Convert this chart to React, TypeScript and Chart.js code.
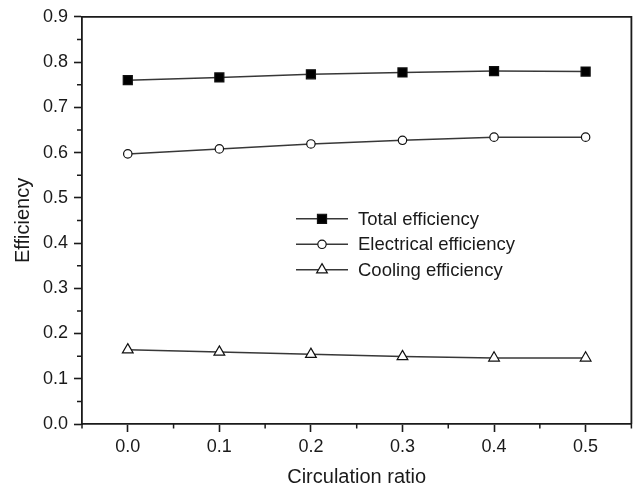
import React, { useEffect, useRef } from 'react';
import { Chart, registerables } from 'chart.js';

Chart.register(...registerables);

const circulationRatio = [0.0, 0.1, 0.2, 0.3, 0.4, 0.5];
const totalEfficiency = [0.760, 0.766, 0.773, 0.777, 0.780, 0.779];
const electricalEfficiency = [0.597, 0.608, 0.619, 0.627, 0.634, 0.634];
const coolingEfficiency = [0.164, 0.159, 0.154, 0.149, 0.146, 0.146];
const seriesLabels = ['Total efficiency', 'Electrical efficiency', 'Cooling efficiency'];

const xMajorTicks = [0.0, 0.1, 0.2, 0.3, 0.4, 0.5];
const xMinorTicks = [-0.05, 0.05, 0.15, 0.25, 0.35, 0.45, 0.55];
const yMajorTicks = [0.0, 0.1, 0.2, 0.3, 0.4, 0.5, 0.6, 0.7, 0.8, 0.9];
const yMinorTicks = [0.05, 0.15, 0.25, 0.35, 0.45, 0.55, 0.65, 0.75, 0.85];

const FONT = "'Liberation Sans', Arial, Helvetica, sans-serif";
const INK = '#1a1a1a';
const LINE = '#383838';

const framePlugin = {
  id: 'frameAndMinorTicks',
  afterDraw(chart: any) {
    const { ctx, chartArea, scales } = chart;
    const { left, right, top, bottom } = chartArea;
    ctx.save();
    ctx.strokeStyle = INK;
    ctx.lineWidth = 1.8;
    ctx.beginPath();
    ctx.moveTo(left, top);
    ctx.lineTo(right, top);
    ctx.lineTo(right, bottom);
    ctx.stroke();
    ctx.lineWidth = 1.5;
    ctx.beginPath();
    xMinorTicks.forEach((v) => {
      const px = scales.x.getPixelForValue(v);
      ctx.moveTo(px, bottom);
      ctx.lineTo(px, bottom + 4.5);
    });
    yMinorTicks.forEach((v) => {
      const py = scales.y.getPixelForValue(v);
      ctx.moveTo(left, py);
      ctx.lineTo(left - 5, py);
    });
    ctx.stroke();
    ctx.restore();
  },
};

function drawMarker(ctx: CanvasRenderingContext2D, style: string, x: number, y: number, r: number, fill: string, stroke: string) {
  ctx.beginPath();
  if (style === 'rect') {
    const s = Math.SQRT1_2 * r;
    ctx.rect(x - s, y - s, 2 * s, 2 * s);
  } else if (style === 'triangle') {
    ctx.moveTo(x, y - r);
    ctx.lineTo(x + r * Math.sin(Math.PI / 3), y + r / 2);
    ctx.lineTo(x - r * Math.sin(Math.PI / 3), y + r / 2);
    ctx.closePath();
  } else {
    ctx.arc(x, y, r, 0, Math.PI * 2);
  }
  ctx.fillStyle = fill;
  ctx.fill();
  ctx.strokeStyle = stroke;
  ctx.stroke();
}

const legendPlugin = {
  id: 'insetLegend',
  afterDraw(chart: any) {
    const { ctx, chartArea } = chart;
    const x0 = chartArea.left + 214;
    const x1 = x0 + 52;
    const xm = x0 + 26;
    const tx = x0 + 62;
    ctx.save();
    ctx.font = `18.5px ${FONT}`;
    ctx.textBaseline = 'middle';
    ctx.textAlign = 'left';
    chart.data.datasets.forEach((ds: any, i: number) => {
      const yy = chartArea.top + 202 + i * 25.5;
      ctx.strokeStyle = ds.borderColor;
      ctx.lineWidth = ds.borderWidth;
      ctx.beginPath();
      ctx.moveTo(x0, yy);
      ctx.lineTo(x1, yy);
      ctx.stroke();
      ctx.lineWidth = ds.pointBorderWidth;
      drawMarker(ctx, ds.pointStyle, xm, yy, ds.pointRadius, ds.pointBackgroundColor, ds.pointBorderColor);
      ctx.fillStyle = INK;
      ctx.fillText(ds.label, tx, yy + 1);
    });
    ctx.restore();
  },
};

export default function App() {
  const canvasRef = useRef<HTMLCanvasElement | null>(null);

  useEffect(() => {
    if (!canvasRef.current) return;
    const mk = (vals: number[]) => circulationRatio.map((x, i) => ({ x, y: vals[i] }));
    const base = {
      borderColor: LINE,
      borderWidth: 1.5,
      pointBorderColor: '#111',
      pointBorderWidth: 1.2,
      fill: false,
      tension: 0,
    };
    const chart = new Chart(canvasRef.current, {
      type: 'line',
      data: {
        datasets: [
          { ...base, label: seriesLabels[0], data: mk(totalEfficiency), pointStyle: 'rect', pointRadius: 6.4, pointBackgroundColor: '#000' },
          { ...base, label: seriesLabels[1], data: mk(electricalEfficiency), pointStyle: 'circle', pointRadius: 4.2, pointBackgroundColor: '#fff' },
          { ...base, label: seriesLabels[2], data: mk(coolingEfficiency), pointStyle: 'triangle', pointRadius: 6.2, pointBackgroundColor: '#fff' },
        ] as any,
      },
      options: {
        animation: false,
        responsive: false,
        maintainAspectRatio: false,
        layout: { padding: { top: 15, right: 4, left: 0, bottom: 0 } },
        plugins: { legend: { display: false }, tooltip: { enabled: false } },
        scales: {
          x: {
            type: 'linear',
            min: -0.05,
            max: 0.55,
            afterBuildTicks: (s: any) => { s.ticks = xMajorTicks.map((v) => ({ value: v })); },
            afterFit: (s: any) => { s.height = 65; },
            ticks: {
              callback: (v: any) => Number(v).toFixed(1),
              font: { size: 18, family: FONT },
              color: INK,
              padding: 4,
              maxRotation: 0,
              autoSkip: false,
            },
            grid: { drawOnChartArea: false, tickLength: 8, tickColor: INK, tickWidth: 1.6 },
            border: { color: INK, width: 1.8 },
            title: { display: true, text: 'Circulation ratio', font: { size: 20, family: FONT }, color: INK, padding: { top: 0, bottom: 0 } },
          },
          y: {
            type: 'linear',
            min: 0,
            max: 0.9,
            afterBuildTicks: (s: any) => { s.ticks = yMajorTicks.map((v) => ({ value: v })); },
            afterFit: (s: any) => { s.width = 82; },
            ticks: {
              callback: (v: any) => Number(v).toFixed(1),
              font: { size: 18, family: FONT },
              color: INK,
              padding: 6,
              autoSkip: false,
            },
            grid: { drawOnChartArea: false, tickLength: 8, tickColor: INK, tickWidth: 1.6 },
            border: { color: INK, width: 1.8 },
            title: { display: true, text: 'Efficiency', font: { size: 20, family: FONT }, color: INK, padding: { top: 11, bottom: 0 } },
          },
        },
      } as any,
      plugins: [framePlugin, legendPlugin],
    });
    return () => chart.destroy();
  }, []);

  return (
    <div style={{ position: 'fixed', left: 0, top: 0, width: 639, height: 489, background: '#fff' }}>
      <canvas ref={canvasRef} width={639} height={489} />
    </div>
  );
}
